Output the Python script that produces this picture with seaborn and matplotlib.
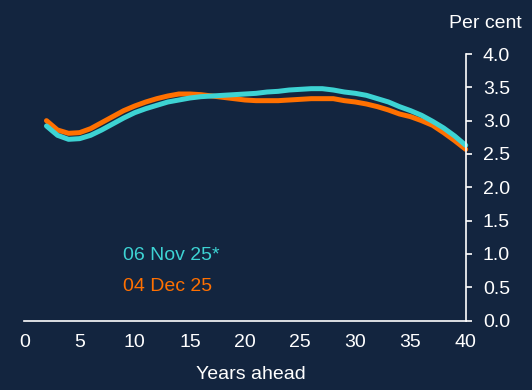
import pandas as pd
import matplotlib
matplotlib.use("Agg")
import matplotlib.pyplot as plt
import seaborn as sns

# Years ahead and forward curves
years = list(range(2, 41))
nov_06 = [2.92, 2.78, 2.72, 2.73, 2.78, 2.86, 2.95, 3.04, 3.12, 3.18,
          3.23, 3.28, 3.31, 3.34, 3.36, 3.37, 3.38, 3.39, 3.40, 3.41,
          3.43, 3.44, 3.46, 3.47, 3.48, 3.48, 3.46, 3.43, 3.41, 3.38,
          3.33, 3.28, 3.21, 3.15, 3.08, 2.99, 2.89, 2.77, 2.63]
dec_04 = [3.00, 2.86, 2.81, 2.82, 2.88, 2.97, 3.06, 3.15, 3.22, 3.28,
          3.33, 3.37, 3.40, 3.40, 3.39, 3.37, 3.35, 3.33, 3.31, 3.30,
          3.30, 3.30, 3.31, 3.32, 3.33, 3.33, 3.33, 3.30, 3.28, 3.25,
          3.21, 3.16, 3.10, 3.06, 3.00, 2.93, 2.82, 2.70, 2.57]
series_labels = ["06 Nov 25*", "04 Dec 25"]
x_ticks = [0, 5, 10, 15, 20, 25, 30, 35, 40]
y_ticks = [0.0, 0.5, 1.0, 1.5, 2.0, 2.5, 3.0, 3.5, 4.0]

BG = "#13253f"
CYAN = "#3dd3d3"
ORANGE = "#ff7000"
FS = 14

sns.set_style("dark")
plt.rcParams["font.family"] = ["Liberation Sans", "DejaVu Sans"]

df = pd.DataFrame({"years": years, "nov": nov_06, "dec": dec_04})

fig = plt.figure(figsize=(5.32, 3.90), dpi=100, facecolor=BG)
ax = fig.add_axes([0.0459, 0.178, 0.8295, 0.6835])
ax.set_facecolor(BG)
ax.grid(False)

# orange first so the cyan curve sits on top
sns.lineplot(data=df, x="years", y="dec", ax=ax, color=ORANGE, linewidth=3.6, clip_on=False)
sns.lineplot(data=df, x="years", y="nov", ax=ax, color=CYAN, linewidth=3.6, clip_on=False)

ax.set_xlim(0, 40)
ax.set_ylim(0, 4)
ax.set_xticks(x_ticks)
ax.set_yticks(y_ticks)
ax.set_yticklabels([f"{v:.1f}" for v in y_ticks])

ax.yaxis.tick_right()
for s in ["left", "top"]:
    ax.spines[s].set_visible(False)
for s in ["right", "bottom"]:
    ax.spines[s].set_visible(True)
    ax.spines[s].set_color("white")
    ax.spines[s].set_linewidth(1.2)

ax.tick_params(axis="y", colors="white", labelsize=FS, direction="out",
               length=4.3, width=1.2, pad=8, left=False, right=True)
ax.tick_params(axis="x", colors="white", labelsize=FS, direction="in",
               length=4.3, width=1.2, pad=9.5)

ax.set_xlabel("")
ax.set_ylabel("")
ax.text(0.513, -0.202, "Years ahead", transform=ax.transAxes, color="white",
        fontsize=FS, ha="center", va="center")

ax.text(1.127, 1.114, "Per cent", transform=ax.transAxes, color="white",
        fontsize=FS, ha="right", va="center")
ax.text(0.2228, 0.2458, series_labels[0], transform=ax.transAxes, color=CYAN,
        fontsize=FS, ha="left", va="center")
ax.text(0.2228, 0.1268, series_labels[1], transform=ax.transAxes, color=ORANGE,
        fontsize=FS, ha="left", va="center")

fig.savefig("out.png", dpi=100, facecolor=BG)
